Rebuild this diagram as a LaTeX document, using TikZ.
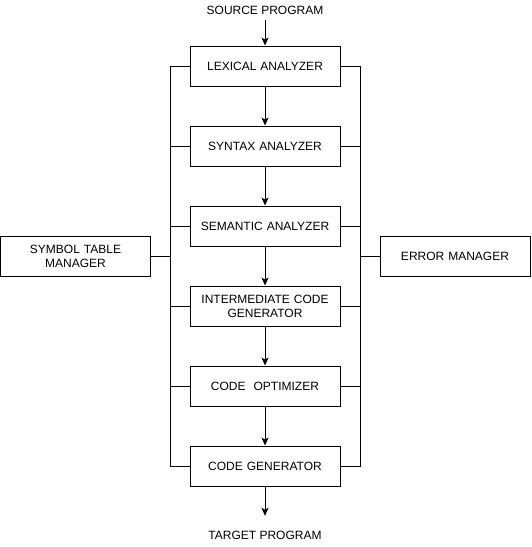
\documentclass[tikz,border=0pt]{standalone}
\usepackage{fontspec}
\setmainfont{Liberation Sans}
\usetikzlibrary{arrows.meta}
\begin{document}
\begin{tikzpicture}[x=1pt,y=1pt,
  every node/.style={font=\fontsize{12}{14}\selectfont},
  stage/.style={draw,line width=1pt,minimum width=150pt,minimum height=40pt,inner sep=2pt,align=center,text width=146pt},
  label/.style={inner sep=0pt,minimum width=150pt,align=center},
  conn/.style={line width=1pt},
  arr/.style={line width=1pt,-{Stealth[length=8pt,width=7pt,inset=2pt]}}]
\useasboundingbox (0,0) rectangle (531,-547);
\node[label,minimum height=20pt] (src) at (265,-10) {SOURCE PROGRAM};
\node[stage] (lex) at (265,-66) {LEXICAL ANALYZER};
\node[stage] (syn) at (265,-146) {SYNTAX ANALYZER};
\node[stage] (sem) at (265,-226) {SEMANTIC ANALYZER};
\node[stage] (icg) at (265,-306) {INTERMEDIATE CODE\\GENERATOR};
\node[stage] (opt) at (265,-386) {CODE~ OPTIMIZER};
\node[stage] (gen) at (265,-466) {CODE GENERATOR};
\node[label,minimum height=38pt] (tgt) at (265,-535) {TARGET PROGRAM};
\node[stage] (sym) at (75.5,-256) {SYMBOL TABLE\\MANAGER};
\node[stage] (err) at (455,-256) {ERROR MANAGER};
\coordinate (lt) at (170,-66);
\coordinate (lb) at (170,-466);
\coordinate (rt) at (360,-66);
\coordinate (rb) at (360,-466);
\draw[arr] (src) -- (lex);
\draw[arr] (lex) -- (syn);
\draw[arr] (syn) -- (sem);
\draw[arr] (sem) -- (icg);
\draw[arr] (icg) -- (opt);
\draw[arr] (opt) -- (gen);
\draw[arr] (gen) -- (tgt);
\draw[conn] (lex.west) -- (lt) -- (lb) -- (gen.west);
\draw[conn] (lex.east) -- (rt) -- (rb) -- (gen.east);
\foreach \n in {syn,sem,icg,opt} {
  \draw[conn] (\n.west) -- (\n.west -| lt);
  \draw[conn] (\n.east) -- (\n.east -| rt);
}
\draw[conn] (sym.east) -- (sym.east -| lt);
\draw[conn] (err.west) -- (err.west -| rt);
\end{tikzpicture}
\end{document}
